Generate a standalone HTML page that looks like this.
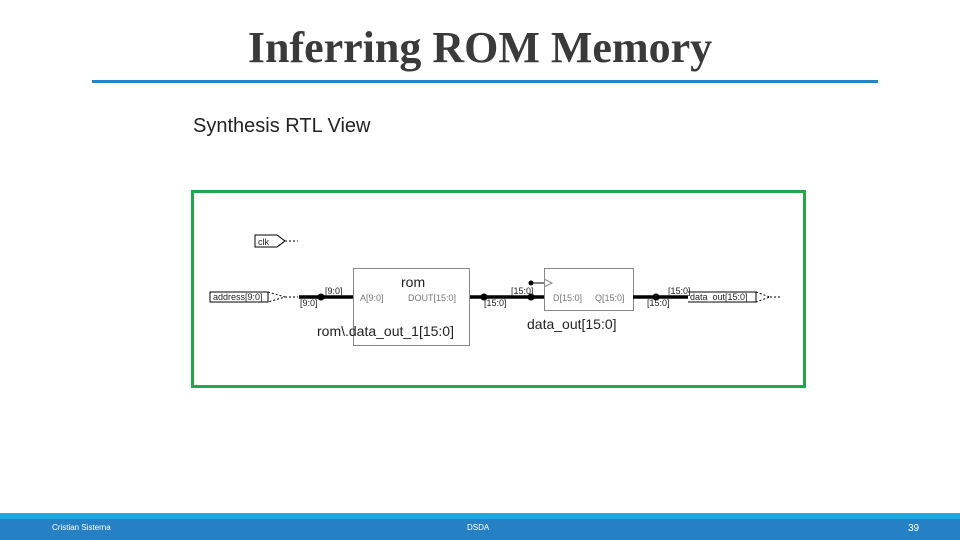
<!DOCTYPE html>
<html><head><style>
body{margin:0;width:960px;height:540px;background:#fff;position:relative;overflow:hidden;font-family:"Liberation Sans",sans-serif}
.t{position:absolute;left:0;width:960px;top:22px;text-align:center;font-family:"Liberation Serif",serif;font-weight:bold;font-size:44px;color:#3a3a3a}
</style></head><body>
<div class="t">Inferring ROM Memory</div>
<div style="position:absolute;left:92px;top:80px;width:786px;height:3px;background:#2c83c3"></div>
<div style="position:absolute;left:193px;top:115px;font-size:20px;color:#222">Synthesis RTL View</div>
<svg style="position:absolute;left:0;top:0" width="960" height="540" font-family="Liberation Sans,sans-serif">
<rect x="192.5" y="191.5" width="612" height="195" fill="#fff" stroke="#22a74a" stroke-width="3"/>
<g stroke="#000" fill="none" stroke-width="1">
<path d="M255 235 H277 L285 241 L277 247 H255 Z"/>
<path d="M277 235 L285 241 L277 247" stroke-dasharray="2,2"/>
<path d="M285 241 l13 0" stroke-dasharray="2,2"/>
<path d="M210 292 H268 V302 H210 Z"/>
<path d="M268 292 L285 297 L268 302 M285 297 H298" stroke-dasharray="2,2"/>
<path d="M688 292 H756 V302 H688" />
<path d="M756 292 L770 297 L756 302 M770 297 H780" stroke-dasharray="2,2"/>
</g>
<rect x="353.5" y="268.5" width="116" height="77" fill="#fff" stroke="#888"/>
<rect x="544.5" y="268.5" width="89" height="42" fill="#fff" stroke="#888"/>
<path d="M544 279 L552 283 L544 287" stroke="#888" fill="none"/>
<g stroke="#000" stroke-width="3.5">
<line x1="299" y1="297" x2="353" y2="297"/><line x1="470" y1="297" x2="544" y2="297"/><line x1="633" y1="297" x2="688" y2="297"/>
</g>
<line x1="531" y1="283" x2="544" y2="283" stroke="#000"/>
<g fill="#000"><circle cx="321" cy="297" r="3.5"/><circle cx="484" cy="297" r="3.5"/><circle cx="531" cy="297" r="3.5"/><circle cx="656" cy="297" r="3.5"/><circle cx="531" cy="283" r="2.5"/></g>
<g font-size="9" fill="#222">
<text x="258" y="245">clk</text><text x="213" y="300">address[9:0]</text><text x="690" y="300">data_out[15:0]</text>
<text x="325" y="294">[9:0]</text><text x="300" y="306">[9:0]</text>
<text x="360" y="301" fill="#777">A[9:0]</text><text x="408" y="301" fill="#777">DOUT[15:0]</text>
<text x="511" y="294">[15:0]</text><text x="484" y="306">[15:0]</text>
<text x="553" y="301" fill="#777">D[15:0]</text><text x="595" y="301" fill="#777">Q[15:0]</text>
<text x="668" y="294">[15:0]</text><text x="647" y="306">[15:0]</text>
</g>
<g font-size="14" fill="#222"><text x="401" y="287">rom</text><text x="317" y="336">rom\.data_out_1[15:0]</text><text x="527" y="329">data_out[15:0]</text></g>
<rect x="0" y="513" width="960" height="6" fill="#23a8de"/>
<rect x="0" y="519" width="960" height="21" fill="#2581c4"/>
<g font-size="8" fill="#fff"><text x="52" y="530">Cristian Sisterna</text><text x="467" y="530">DSDA</text><text x="908" y="531" font-size="10">39</text></g>
</svg>
</body></html>
